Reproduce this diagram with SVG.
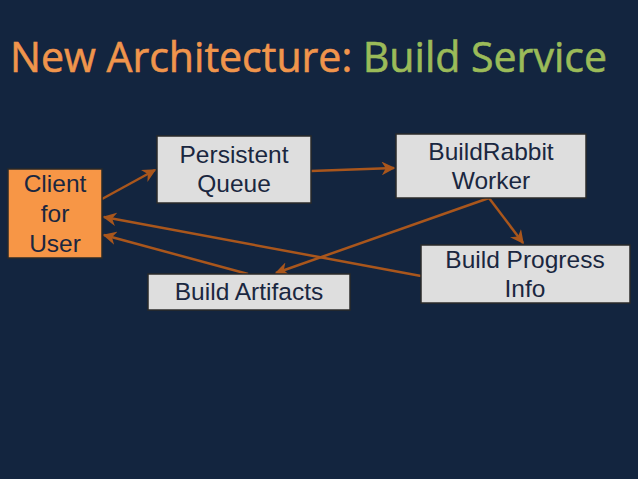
<svg xmlns="http://www.w3.org/2000/svg" width="638" height="479" viewBox="0 0 638 479">
<defs>
<style>
.box{fill:#dedede;stroke:#2a2a2a;stroke-width:1.5}
.client{fill:#f79646;stroke:#2a2a2a;stroke-width:1.5}
.t{font-family:"Liberation Sans",Arial,sans-serif;font-size:24.5px;fill:#1a2740;text-anchor:middle}
.c{stroke:#a9561c;stroke-width:2.5;fill:none;marker-end:url(#ah)}
</style>
<marker id="ah" viewBox="0 0 10 10" refX="9" refY="5" markerWidth="5.5" markerHeight="5.5" orient="auto" markerUnits="strokeWidth">
<path d="M0,0 L10,5 L0,10 L3,5 Z" fill="#a9561c"/>
</marker>
</defs>
<rect width="638" height="479" fill="#13253f"/>
<text x="10" y="72" font-family="'Open Sans',sans-serif" font-size="42" textLength="597" lengthAdjust="spacingAndGlyphs" stroke-width="0.6"><tspan fill="#f0954c" stroke="#f0954c">New Architecture: </tspan><tspan fill="#9bbb59" stroke="#9bbb59">Build Service</tspan></text>
<g id="connectors">
<line class="c" x1="102" y1="199" x2="155" y2="170"/>
<line class="c" x1="311" y1="171" x2="394" y2="168"/>
<line class="c" x1="489" y1="198" x2="523" y2="243"/>
<line class="c" x1="489" y1="198" x2="276" y2="273"/>
<line class="c" x1="421" y1="276" x2="104" y2="217"/>
<line class="c" x1="248" y1="274" x2="104" y2="235"/>
</g>
<g id="client"><rect class="client" x="8" y="169" width="94" height="89"/>
<text class="t" x="55" y="192">Client</text><text class="t" x="55" y="222">for</text><text class="t" x="55" y="252">User</text></g>
<g id="queue"><rect class="box" x="157" y="136" width="154" height="67"/>
<text class="t" x="234" y="163">Persistent</text><text class="t" x="234" y="192">Queue</text></g>
<g id="worker"><rect class="box" x="396" y="134" width="190" height="64"/>
<text class="t" x="491" y="160">BuildRabbit</text><text class="t" x="491" y="189">Worker</text></g>
<g id="progress"><rect class="box" x="421" y="245" width="209" height="58"/>
<text class="t" x="525" y="268">Build Progress</text><text class="t" x="525" y="297">Info</text></g>
<g id="artifacts"><rect class="box" x="148" y="274" width="202" height="36"/>
<text class="t" x="249" y="300">Build Artifacts</text></g>
</svg>
